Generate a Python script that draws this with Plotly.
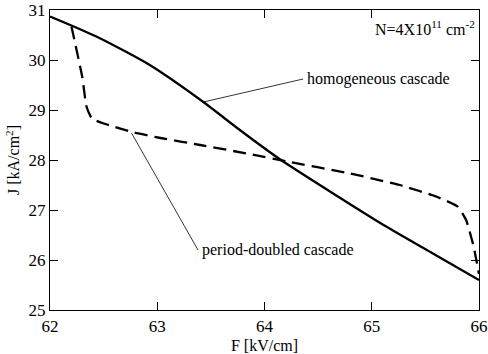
import plotly.graph_objects as go

# Data
F_hom = [62.0, 62.2, 62.47, 62.93, 63.43, 63.77, 64.14, 64.64, 65.11, 65.57, 66.0]
J_hom = [30.87, 30.69, 30.43, 29.9, 29.16, 28.6, 28.02, 27.33, 26.7, 26.13, 25.6]

F_pd = [62.2, 62.3, 62.34, 62.39, 62.5, 62.78, 63.03, 63.4, 63.86, 64.21, 64.8, 65.26, 65.6, 65.8, 65.88, 65.95, 66.0]
J_pd = [30.67, 29.67, 29.07, 28.83, 28.73, 28.55, 28.44, 28.3, 28.12, 27.97, 27.73, 27.5, 27.27, 27.07, 26.8, 26.27, 25.72]

lead_hom_F = [63.43, 64.36]
lead_hom_J = [29.16, 29.62]
lead_pd_F = [62.76, 63.38]
lead_pd_J = [28.54, 26.2]

x_ticks = [62, 63, 64, 65, 66]
y_ticks = [25, 26, 27, 28, 29, 30, 31]

FONT = "Liberation Serif"

fig = go.Figure()
fig.add_trace(go.Scatter(x=F_hom, y=J_hom, mode="lines", line=dict(color="black", width=2.3, shape="spline", smoothing=0.6), showlegend=False))
fig.add_trace(go.Scatter(x=F_pd, y=J_pd, mode="lines", line=dict(color="black", width=2.3, dash="13px,7px", shape="spline", smoothing=0.4), showlegend=False))
fig.add_trace(go.Scatter(x=lead_hom_F, y=lead_hom_J, mode="lines", line=dict(color="black", width=0.8), showlegend=False))
fig.add_trace(go.Scatter(x=lead_pd_F, y=lead_pd_J, mode="lines", line=dict(color="black", width=0.8), showlegend=False))

fig.add_annotation(x=lead_hom_F[1], y=lead_hom_J[1], text="homogeneous cascade", showarrow=False,
                   xanchor="left", yanchor="middle", xshift=2, font=dict(family=FONT, size=16, color="black"))
fig.add_annotation(x=lead_pd_F[1], y=lead_pd_J[1], text="period-doubled cascade", showarrow=False,
                   xanchor="left", yanchor="middle", xshift=2, font=dict(family=FONT, size=16, color="black"))
fig.add_annotation(x=1, y=1, xref="paper", yref="paper", text="N=4X10<sup>11</sup> cm<sup>-2</sup>", showarrow=False,
                   xanchor="right", yanchor="top", xshift=-2, yshift=-6, font=dict(family=FONT, size=16, color="black"))

axis_common = dict(showline=True, linecolor="black", linewidth=1.2, mirror="ticks", ticks="inside",
                   ticklen=8, tickcolor="black", tickwidth=1, showgrid=False, zeroline=False, automargin=False,
                   tickfont=dict(family=FONT, size=17, color="black"))

fig.update_xaxes(range=[62, 66], tickvals=x_ticks, title=dict(text="F [kV/cm]", font=dict(family=FONT, size=16, color="black"), standoff=6), **axis_common)
fig.update_yaxes(range=[25, 31], tickvals=y_ticks, title=dict(text="J [kA/cm<sup>2</sup>]", font=dict(family=FONT, size=16, color="black"), standoff=4), **axis_common)

fig.update_layout(width=488, height=354, margin=dict(l=50, r=9, t=10, b=44),
                  paper_bgcolor="white", plot_bgcolor="white", font=dict(family=FONT))

fig.write_html("out.html")
